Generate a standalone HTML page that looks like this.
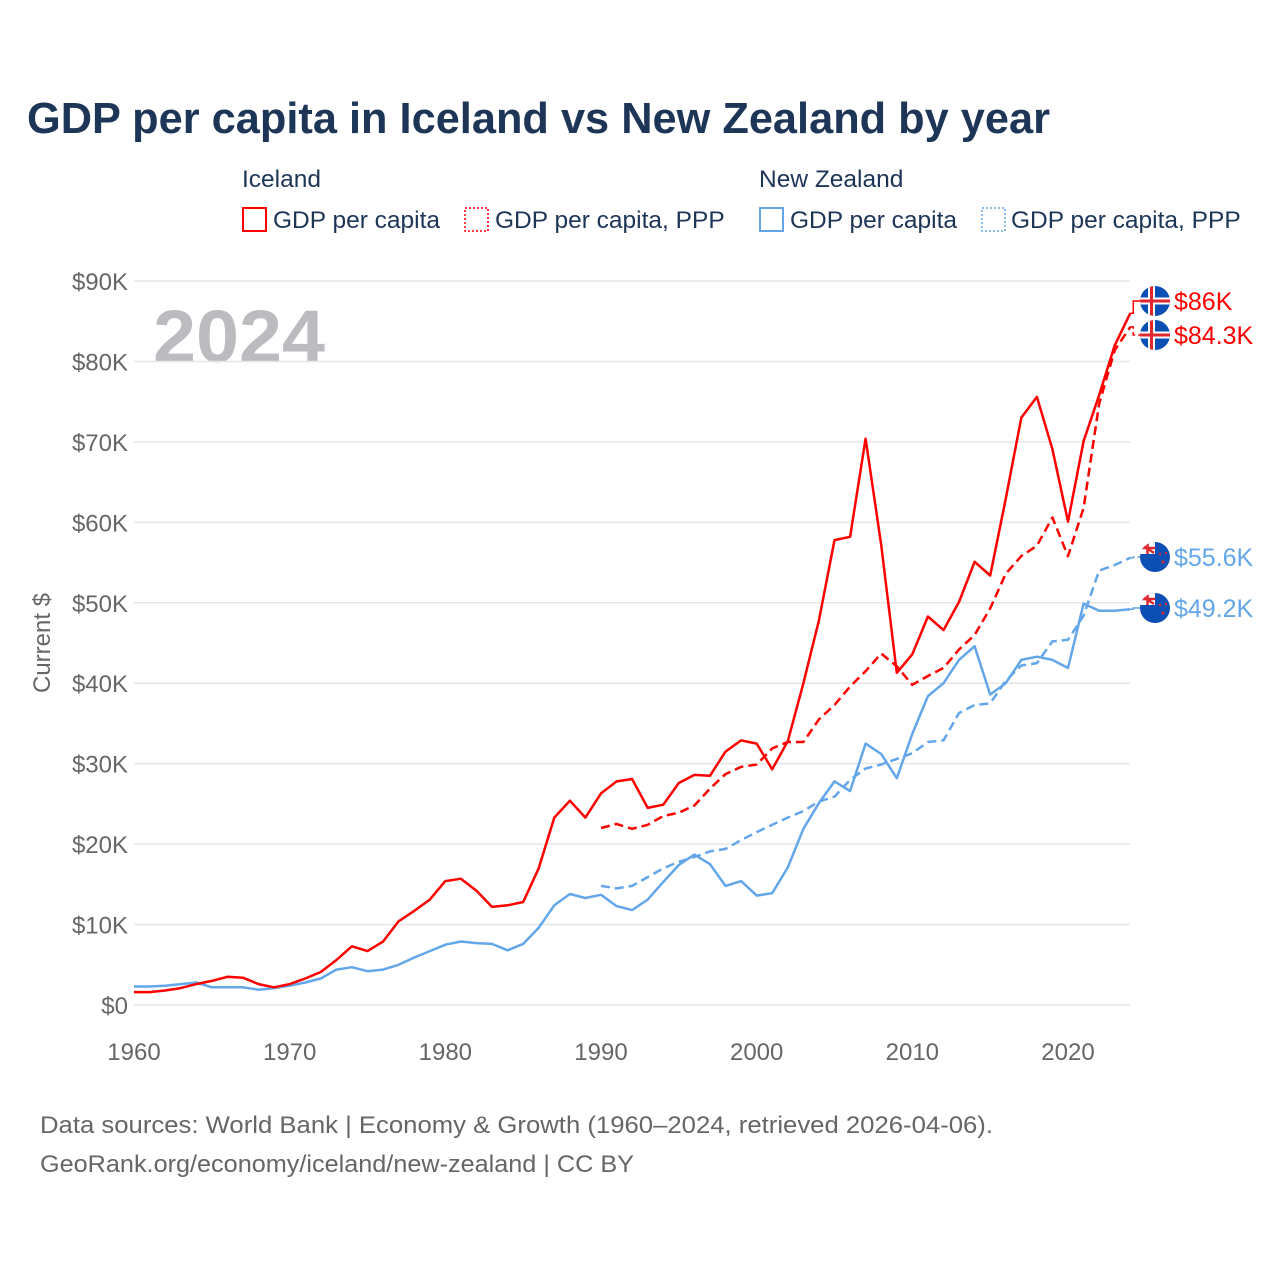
<!DOCTYPE html>
<html><head><meta charset="utf-8"><style>
body{margin:0;background:#fff;font-family:"Liberation Sans",sans-serif}
svg text{font-family:"Liberation Sans",sans-serif}
</style></head><body>
<svg id="chart" width="1280" height="1280" xmlns="http://www.w3.org/2000/svg">
<text x="27" y="133" font-size="44" font-weight="bold" fill="#1d3557" textLength="1023" lengthAdjust="spacingAndGlyphs">GDP per capita in Iceland vs New Zealand by year</text>
<g font-size="24.5" fill="#1d3557">
<text x="242" y="187">Iceland</text>
<text x="759" y="187">New Zealand</text>
<g><rect x="243" y="208" width="23" height="23" fill="none" stroke="#ff0000" stroke-width="2"/><text x="273" y="228">GDP per capita</text></g>
<g><rect x="465" y="208" width="23" height="23" fill="none" stroke="#ff0000" stroke-width="1.5" stroke-dasharray="2,2"/><text x="495" y="228">GDP per capita, PPP</text></g>
<g><rect x="760" y="208" width="23" height="23" fill="none" stroke="#63a6ea" stroke-width="2"/><text x="790" y="228">GDP per capita</text></g>
<g><rect x="982" y="208" width="23" height="23" fill="none" stroke="#63a6ea" stroke-width="1.5" stroke-dasharray="2,2"/><text x="1011" y="228">GDP per capita, PPP</text></g>
</g>
<text x="153" y="362" font-size="74" font-weight="bold" fill="#bcbcc0" textLength="172" lengthAdjust="spacingAndGlyphs">2024</text>
<text transform="translate(50,643) rotate(-90)" text-anchor="middle" font-size="24" fill="#666">Current $</text>
<g id="grid"></g><g id="lines"></g><g id="labels"></g>
<text x="40" y="1133" font-size="24" fill="#666" textLength="953" lengthAdjust="spacingAndGlyphs">Data sources: World Bank | Economy &amp; Growth (1960–2024, retrieved 2026-04-06).</text>
<text x="40" y="1172" font-size="24" fill="#666" textLength="594" lengthAdjust="spacingAndGlyphs">GeoRank.org/economy/iceland/new-zealand | CC BY</text>
</svg>
<script>
const yTicks=[0,10,20,30,40,50,60,70,80,90];
const xTicks=[1960,1970,1980,1990,2000,2010,2020];
const isGdp=[1.6,1.6,1.8,2.1,2.6,3.0,3.5,3.4,2.6,2.2,2.6,3.3,4.1,5.6,7.3,6.7,7.9,10.4,11.7,13.1,15.4,15.7,14.2,12.2,12.4,12.8,17.0,23.3,25.4,23.3,26.3,27.8,28.1,24.5,24.9,27.6,28.6,28.5,31.5,32.9,32.5,29.3,32.8,40.0,47.8,57.8,58.2,70.4,57.2,41.3,43.6,48.3,46.6,50.1,55.1,53.4,62.9,73.0,75.6,69.1,60.1,70.1,75.8,82.0,86.0];
const isPpp=[22.0,22.5,21.9,22.4,23.5,23.9,24.8,26.9,28.7,29.6,29.9,31.9,32.7,32.7,35.5,37.3,39.6,41.5,43.7,42.1,39.8,40.9,41.9,44.2,46.0,49.3,53.6,55.8,57.1,60.6,55.8,61.8,74.7,81.4,84.3];
const nzGdp=[2.3,2.3,2.4,2.6,2.8,2.2,2.2,2.2,1.9,2.1,2.4,2.8,3.3,4.4,4.7,4.2,4.4,5.0,5.9,6.7,7.5,7.9,7.7,7.6,6.8,7.6,9.6,12.4,13.8,13.3,13.7,12.3,11.8,13.1,15.3,17.4,18.7,17.5,14.8,15.4,13.6,13.9,17.1,21.9,25.1,27.8,26.6,32.5,31.2,28.2,33.7,38.4,40.0,42.9,44.6,38.6,40.0,42.9,43.3,42.9,41.9,49.9,49.0,49.0,49.2];
const nzPpp=[14.8,14.5,14.8,15.9,17.0,17.8,18.4,19.1,19.4,20.5,21.5,22.4,23.3,24.1,25.3,25.9,28.0,29.4,29.9,30.6,31.3,32.7,32.9,36.3,37.3,37.5,40.3,42.2,42.5,45.2,45.4,48.4,54.0,54.7,55.6];
const endLabels=["$86K","$84.3K","$55.6K","$49.2K"];
const NS="http://www.w3.org/2000/svg";
const X=y=>134+(y-1960)*(1068-134)/60;
const Y=v=>1005-v*80.44/10;
function mk(t,a,p){const e=document.createElementNS(NS,t);for(const k in a)e.setAttribute(k,a[k]);p.appendChild(e);return e;}
const grid=document.getElementById('grid');
yTicks.forEach(v=>{
 const l=mk('line',{x1:134,x2:1130,y1:Y(v),y2:Y(v),stroke:'#e6e6e6','stroke-width':1.5},grid);
 
 
 const t=mk('text',{x:128,y:Y(v)+9,'text-anchor':'end','font-size':24,fill:'#666'},grid);
 t.textContent='$'+v+(v?'K':'');
 
 
});
xTicks.forEach(y=>{
 const t=mk('text',{x:X(y),y:1060,'text-anchor':'middle','font-size':24,fill:'#666'},grid);
 t.textContent=y;
 
 
});
const lines=document.getElementById('lines');
function series(vals,start,color,dash,name){
 const d=vals.map((v,i)=>(i?'L':'M')+X(start+i).toFixed(1)+','+Y(v).toFixed(1)).join('');
 const p=mk('path',{d:d,fill:'none',stroke:color,'stroke-width':2.5,'stroke-linejoin':'round'},lines);
 if(dash)p.setAttribute('stroke-dasharray','9,5');
 
 
}
series(nzPpp,1990,'#63a6ea',true,'line-nz-ppp');
series(nzGdp,1960,'#63a6ea',false,'line-nz-gdp');
series(isPpp,1990,'#ff0000',true,'line-iceland-ppp');
series(isGdp,1960,'#ff0000',false,'line-iceland-gdp');
const labels=document.getElementById('labels');
const defs=mk('defs',{},labels);
const ends=[[isGdp[isGdp.length-1],301,'#ff0000','is',false],[isPpp[isPpp.length-1],335,'#ff0000','is',true],[nzPpp[nzPpp.length-1],557,'#63a6ea','nz',true],[nzGdp[nzGdp.length-1],608,'#63a6ea','nz',false]];
ends.forEach((e,i)=>{
 const g=mk('g',{},labels);
 
 
 const x0=X(2024),y0=Y(e[0]);
 const c=mk('path',{d:`M${x0},${y0}H${x0+3}V${e[1]}H1141`,fill:'none',stroke:e[2],'stroke-width':1.5},g);
 if(e[4])c.setAttribute('stroke-dasharray','5,3');
 const cp=mk('clipPath',{id:'clip'+i},defs);
 mk('circle',{cx:1155,cy:e[1],r:15},cp);
 const f=mk('g',{'clip-path':'url(#clip'+i+')'},g);
 mk('rect',{x:1140,y:e[1]-15,width:30,height:30,fill:'#0b4fb5'},f);
 if(e[3]==='is'){
  mk('rect',{x:1148,y:e[1]-15,width:7,height:30,fill:'#fff'},f);
  mk('rect',{x:1140,y:e[1]-3.5,width:30,height:7,fill:'#fff'},f);
  mk('rect',{x:1150,y:e[1]-15,width:3,height:30,fill:'#e0262f'},f);
  mk('rect',{x:1140,y:e[1]-1.5,width:30,height:3,fill:'#e0262f'},f);
 }else{
  mk('rect',{x:1140,y:e[1]-15,width:15,height:12,fill:'#fff'},f);
  mk('path',{d:`M1141,${e[1]-13}L1154,${e[1]-4}M1147.5,${e[1]-15}V${e[1]-3}M1140,${e[1]-9}H1155`,stroke:'#e0262f','stroke-width':2.5},f);
  mk('circle',{cx:1163,cy:e[1]+5,r:1.5,fill:'#e0262f'},f);
  mk('circle',{cx:1160,cy:e[1]-3,r:1.2,fill:'#e0262f'},f);
  mk('circle',{cx:1166,cy:e[1]-4,r:1.2,fill:'#e0262f'},f);
 }
 const t=mk('text',{x:1174,y:e[1]+9,'font-size':25,fill:e[2]},g);
 t.textContent=endLabels[i];
});
</script>
</body></html>
